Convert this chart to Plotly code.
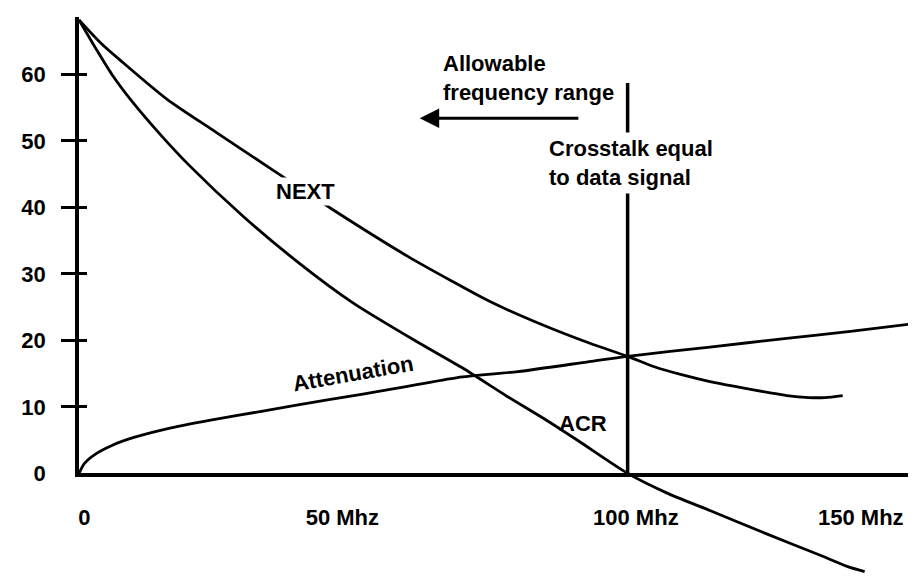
import plotly.graph_objects as go

# ---------------- data ----------------
freq_next = [0, 4, 8, 16, 25, 35, 46, 60, 68, 75, 84, 93, 100, 105, 110, 115, 120, 126, 129, 133, 136, 139.2]
next_db = [68.2, 64.7, 61.8, 56.3, 51.3, 45.8, 39.8, 32.6, 28.9, 25.8, 22.5, 19.6, 17.6, 16.0, 14.8, 13.8, 13.0, 12.1, 11.7, 11.4, 11.4, 11.7]

freq_acr = [0, 3, 6, 10, 15, 20, 30, 40, 50, 62, 70, 78, 85, 91, 100, 107, 115, 125, 135, 140, 143.2]
acr_db = [68.2, 64.0, 60.0, 55.6, 50.8, 46.4, 38.6, 31.7, 25.6, 19.6, 15.8, 11.6, 8.1, 4.9, 0.0, -2.9, -5.6, -9.0, -12.3, -14.0, -14.8]

freq_att = [0, 1, 3, 6, 10, 16, 24, 33, 45, 58, 69, 80, 93, 100, 115, 129, 141, 152]
att_db = [0, 1.5, 2.9, 4.2, 5.4, 6.7, 8.0, 9.3, 11.0, 12.8, 14.4, 15.3, 16.8, 17.6, 19.0, 20.3, 21.4, 22.5]

crossover_mhz = 100          # crosstalk equals data signal
crossover_line_top_db = 58.7
allowable_arrow_from = 91.3
allowable_arrow_to = 62.1
allowable_arrow_db = 53.4

y_tick_vals = [0, 10, 20, 30, 40, 50, 60]
y_tick_text = ["0", "10", "20", "30", "40", "50", "60"]
y_mark_vals = [10, 20, 30, 40, 50, 60]
x_tick_pos = [1, 48, 101.5, 142.5]
x_tick_text = ["0", "50 Mhz", "100 Mhz", "150 Mhz"]

X_RANGE = [0, 152.2]
Y_RANGE = [0, 68.6]
Y_LOW_RANGE = [-15.3, 0]

FONT = "Liberation Sans, Arial, sans-serif"
FS = 22
LW = 2.8

fig = go.Figure()

line_style = dict(color="black", width=LW, shape="spline", smoothing=0.7)
fig.add_trace(go.Scatter(x=freq_next, y=next_db, mode="lines", line=line_style, name="NEXT"))
fig.add_trace(go.Scatter(x=freq_att, y=att_db, mode="lines", line=line_style, name="Attenuation"))
fig.add_trace(go.Scatter(x=freq_acr, y=acr_db, mode="lines", line=line_style, name="ACR"))
# ACR continues below the frequency axis (lower panel with identical scale)
fig.add_trace(go.Scatter(x=freq_acr, y=acr_db, mode="lines", line=line_style, name="ACR",
                         xaxis="x2", yaxis="y2"))
# helper traces for the tick-mark axes
fig.add_trace(go.Scatter(x=[], y=[], yaxis="y3", showlegend=False))
fig.add_trace(go.Scatter(x=[], y=[], yaxis="y4", showlegend=False))

# vertical marker line at the crossover frequency
fig.add_shape(type="line", xref="x", yref="y", x0=crossover_mhz, x1=crossover_mhz,
              y0=0, y1=crossover_line_top_db, line=dict(color="black", width=3.5), layer="below")

ann_font = dict(family=FONT, size=FS, color="black", weight="bold")
fig.add_annotation(x=allowable_arrow_to, y=allowable_arrow_db, ax=allowable_arrow_from,
                   ay=allowable_arrow_db, axref="x", ayref="y", xref="x", yref="y",
                   text="", showarrow=True, arrowhead=2, arrowsize=1.3, arrowwidth=3,
                   arrowcolor="black")
fig.add_annotation(x=65.9, y=59.5, xref="x", yref="y", text="Allowable<br>frequency range",
                   showarrow=False, xanchor="left", yanchor="middle", align="left", font=ann_font)
fig.add_annotation(x=84.9, y=46.7, xref="x", yref="y", text="Crosstalk equal<br>to data signal",
                   showarrow=False, xanchor="left", yanchor="middle", align="left",
                   bgcolor="white", font=ann_font, borderpad=3)
fig.add_annotation(x=41.2, y=42.4, xref="x", yref="y", text="NEXT", showarrow=False,
                   bgcolor="white", font=ann_font, borderpad=1)
fig.add_annotation(x=50.0, y=15.0, xref="x", yref="y", text="Attenuation", showarrow=False,
                   textangle=-10, font=ann_font)
fig.add_annotation(x=91.8, y=7.5, xref="x", yref="y", text="ACR", showarrow=False, font=ann_font)

main_dom = [104 / 580, 1 - 9.5 / 580]
low_dom = [0, 104 / 580]
tick_font = dict(family=FONT, size=FS, color="black", weight="bold")

fig.update_layout(
    width=916, height=580,
    margin=dict(l=71, r=10, t=0, b=0),
    paper_bgcolor="white", plot_bgcolor="white",
    showlegend=False,
    font=dict(family=FONT, size=FS, color="black", weight="bold"),
    xaxis=dict(range=X_RANGE, domain=[0, 1], anchor="y", showgrid=False, zeroline=False,
               showline=True, linecolor="black", linewidth=3.5,
               tickmode="array", tickvals=x_tick_pos, ticktext=x_tick_text,
               ticks="", ticklabelstandoff=22, tickfont=tick_font),
    yaxis=dict(range=Y_RANGE, domain=main_dom, anchor="x", showgrid=False, zeroline=False,
               showline=True, linecolor="black", linewidth=3.5,
               tickmode="array", tickvals=y_tick_vals, ticktext=y_tick_text,
               ticks="", ticklabelstandoff=25, tickfont=tick_font),
    yaxis3=dict(range=Y_RANGE, domain=main_dom, overlaying="y", anchor="x", side="left",
                showgrid=False, zeroline=False, showline=False, showticklabels=False,
                tickmode="array", tickvals=y_mark_vals, ticks="outside", ticklen=17,
                tickwidth=3, tickcolor="black"),
    yaxis4=dict(range=Y_RANGE, domain=main_dom, overlaying="y", anchor="x", side="left",
                showgrid=False, zeroline=False, showline=False, showticklabels=False,
                tickmode="array", tickvals=y_mark_vals, ticks="inside", ticklen=8,
                tickwidth=3, tickcolor="black"),
    xaxis2=dict(range=X_RANGE, domain=[0, 1], anchor="y2", visible=False),
    yaxis2=dict(range=Y_LOW_RANGE, domain=low_dom, anchor="x2", visible=False),
)

fig.write_html("out.html")
